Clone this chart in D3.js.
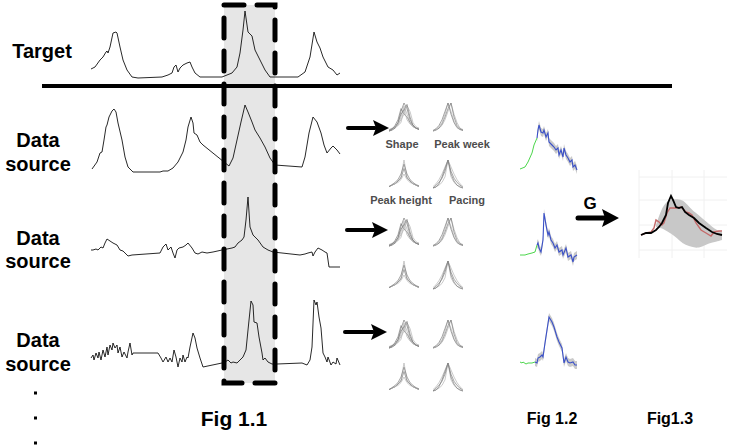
<!DOCTYPE html>
<html>
<head>
<meta charset="utf-8">
<script src="https://cdn.jsdelivr.net/npm/d3@7"></script>
<style>
  html, body { margin: 0; padding: 0; background: #ffffff; }
  svg text { font-family: "Liberation Sans", Arial, sans-serif; font-weight: bold; }
</style>
</head>
<body>
<div id="chart"></div>
<script>
// ### data
// weekly incidence traces: [time step, value]

// target season (top row)
var target_series = [[1,9],[5,11],[10,18],[13,21],[16,26],[17,27],[18,25],[20,31],[23,45],[26,46],[27,45],[30,31],[33,18],[37,8],[42,1],[48,0],[72,1],[78,3],[82,5],[84,11],[86,13],[88,6],[90,10],[93,13],[97,15],[100,16],[102,11],[105,5],[110,1],[132,1],[142,5],[147,11],[150,25],[153,48],[155,67],[158,46],[162,42],[165,28],[170,18],[175,8],[180,1],[208,1],[215,6],[220,21],[224,46],[227,36],[230,30],[233,21],[238,11],[243,8],[247,3],[250,5]];

// the three data sources
var source1_series = [[2,3],[7,10],[10,19],[12,20],[14,32],[16,45],[17,47],[19,55],[22,61],[24,63],[26,60],[28,49],[32,32],[35,15],[38,5],[43,0],[70,0],[73,1],[78,1],[83,4],[88,10],[93,20],[96,32],[98,45],[101,55],[103,49],[104,39],[107,37],[110,30],[113,27],[139,6],[143,14],[147,32],[151,50],[155,67],[158,60],[162,50],[165,42],[170,34],[175,25],[180,14],[185,7],[212,5],[215,15],[219,39],[223,55],[227,50],[231,39],[234,27],[237,19],[241,24],[243,26],[247,22],[250,18]];
var source2_series = [[1,17],[3,17],[6,18],[8,17],[11,20],[13,19],[15,24],[17,28],[20,26],[23,24],[27,22],[30,17],[33,16],[35,14],[38,11],[42,12],[70,14],[73,20],[76,23],[78,17],[81,20],[83,14],[85,9],[87,17],[89,19],[93,20],[96,22],[98,24],[102,19],[105,14],[108,13],[112,15],[117,14],[123,15],[132,17],[137,18],[142,19],[145,20],[148,24],[152,27],[154,30],[156,47],[158,70],[160,40],[163,32],[168,27],[173,20],[178,17],[183,15],[210,12],[215,13],[218,14],[222,15],[223,11],[225,15],[228,19],[232,17],[235,15],[237,14],[239,0],[250,0]];
var source3_series = [[1,9],[3,12],[4,7],[6,14],[8,9],[9,15],[11,7],[13,17],[15,10],[17,20],[18,12],[20,22],[22,17],[23,24],[25,19],[27,22],[28,14],[30,20],[32,10],[34,15],[37,9],[38,15],[40,24],[42,12],[43,14],[68,14],[71,9],[73,5],[76,10],[78,5],[80,9],[82,5],[84,17],[86,10],[88,0],[90,9],[92,5],[93,12],[95,5],[97,10],[98,9],[100,20],[103,34],[105,29],[107,19],[110,9],[113,0],[132,4],[135,5],[138,7],[141,4],[143,5],[147,4],[150,7],[153,10],[156,17],[158,37],[161,66],[163,62],[164,45],[167,44],[169,30],[172,14],[173,7],[175,9],[178,5],[182,3],[187,3],[212,4],[217,2],[220,7],[222,20],[224,67],[226,62],[227,65],[229,50],[231,39],[233,14],[235,10],[237,5],[238,10],[241,2],[243,5],[246,3],[247,9],[250,2]];

// feature panels (same curves in each row): values per step 0..10
var shape_curves = [
  [0,0.5,1,2,5,9,6,3,1.5,1,0.5],
  [0,0.3,1,3,7,10,8,4,2,1,0.8],
  [0,0.5,1.5,2.5,4,6,9,7,3,1.5,1],
  [0,0.5,2,4,8,6,5,3,2,1,0.5],
  [0.5,1,1.5,2,3,8,4,2.5,1.5,1,1],
  [0.3,0.8,1.5,3,6,7.5,9.5,5,2,1,0.6]
];
var peak_week_curves = [
  [0,0.5,1,2,4,7,10,6,3,1,0.5],
  [0,0.3,1,2.5,5,8,10,5,2,0.8,0.3],
  [0,0.5,1.5,3,6,10,7,3.5,1.5,0.6,0.2],
  [0.2,0.8,2,4,7,10,6,3,1.2,0.5,0.2]
];
var peak_height_curves = [
  [0.5,1,1.5,2.5,4,10,4,2.5,1.5,1,0.5],
  [0.5,1,1.5,2.5,3.5,7,3.5,2.5,1.5,1,0.5],
  [0.5,1,1.5,2,3,5,3,2,1.5,1,0.5],
  [0.5,1.2,2,3,5,8.5,5,3,2,1.2,0.8]
];
var pacing_curves = [
  [0,0.5,1,2,4,10,4,2,1,0.5,0],
  [0,1,2,3.5,6,10,6,3.5,2,1,0.3],
  [0.5,1.5,3,5,7.5,10,7.5,5,3,1.5,0.5],
  [0,0.3,1.5,4,7,10,5,2.5,1,0.3,0]
];
var feature_labels = ["Shape", "Peak week", "Peak height", "Pacing"];

// Fig 1.2: observed start (green) and fitted trajectory (blue) per source
var fit1_observed = [[0,3],[5,5],[8,10],[12,19],[14,27],[17,34]];
var fit1_forecast = [[17,34],[18,42],[19,47],[21,40],[23,39],[24,42],[26,35],[28,39],[29,30],[32,27],[34,25],[36,22],[38,24],[39,17],[41,22],[43,15],[44,24],[46,17],[48,14],[50,10],[52,12],[53,5],[55,7],[57,2]];
var fit2_observed = [[0,12],[5,12],[8,13],[12,14],[15,15],[17,22]];
var fit2_forecast = [[17,22],[18,24],[19,19],[21,15],[23,27],[24,54],[26,42],[28,32],[29,35],[31,27],[33,24],[35,19],[37,22],[39,15],[42,17],[43,12],[46,19],[48,10],[51,12],[53,5],[54,10],[57,12]];
var fit3_observed = [[0,5],[2,4],[3,5],[6,3],[8,4],[12,4],[15,5]];
var fit3_forecast = [[15,5],[17,4],[18,9],[20,10],[22,12],[23,10],[25,24],[27,37],[29,50],[32,45],[34,40],[37,30],[39,25],[42,19],[44,4],[46,10],[48,5],[50,4],[53,5],[55,2],[57,2]];

// Fig 1.3: combined forecast band [t, low, high], ensemble (black) and truth (red)
var combo_band = [[17,33,35],[22,32,50],[28,29,60],[37,23,61],[43,17,60],[47,15,57],[53,13,50],[57,12,47],[63,13,42],[70,17,36],[77,18,30],[83,20,28]];
var combo_mean = [[2,25],[7,27],[12,27],[17,30],[20,33],[23,37],[27,45],[29,57],[32,64],[34,60],[37,53],[40,52],[43,53],[46,48],[50,45],[55,42],[60,37],[67,32],[73,28],[78,26],[83,25]];
var combo_truth = [[2,25],[7,27],[12,28],[15,32],[17,40],[20,38],[23,35],[25,37],[28,47],[31,52],[37,52],[42,53],[47,48],[50,47],[53,45],[57,37],[62,30],[67,27],[72,24],[75,28],[80,29],[83,29]];
var combo_grid_x = [0, 33, 65];
var combo_grid_y = [10, 35, 60, 83];

// ### layout
var width = 729, height = 447;
var svg = d3.select("#chart").append("svg")
    .attr("width", width)
    .attr("height", height);

var bg_layer = svg.append("g").attr("class", "bg_layer");
var fg_layer = svg.append("g").attr("class", "fg_layer");

// shared x scale for the long traces, one y scale per row
var x_long = d3.scaleLinear().domain([0, 250]).range([90, 340]);
var rows = [
  {series: target_series,  base: 78},
  {series: source1_series, base: 172},
  {series: source2_series, base: 267},
  {series: source3_series, base: 367}
];

// highlighted window behind the traces
bg_layer.append("rect")
    .attr("x", 224).attr("y", 5)
    .attr("width", 51).attr("height", 378)
    .attr("fill", "#e6e6e6");

rows.forEach(function(r){
  var y = d3.scaleLinear().domain([0, 70]).range([r.base, r.base - 70]);
  var line = d3.line().x(function(d){ return x_long(d[0]); }).y(function(d){ return y(d[1]); });
  fg_layer.append("path")
      .attr("d", line(r.series))
      .attr("fill", "none")
      .attr("stroke", "#111")
      .attr("stroke-width", 0.9)
      .attr("stroke-linejoin", "round");
});

// divider under the target
fg_layer.append("line")
    .attr("x1", 42).attr("x2", 672)
    .attr("y1", 86).attr("y2", 86)
    .attr("stroke", "#000").attr("stroke-width", 4);

// dashed outline of the window
fg_layer.append("rect")
    .attr("x", 224).attr("y", 5)
    .attr("width", 51).attr("height", 378)
    .attr("fill", "none")
    .attr("stroke", "#000")
    .attr("stroke-width", 5)
    .attr("stroke-dasharray", "20,13")
    .attr("stroke-linecap", "round");

// row labels
fg_layer.append("text").attr("x", 42).attr("y", 58)
    .attr("text-anchor", "middle").attr("font-size", 20).text("Target");
[[147, 171], [245, 268], [347, 371]].forEach(function(b){
  fg_layer.append("text").attr("x", 38).attr("y", b[0])
      .attr("text-anchor", "middle").attr("font-size", 20).text("Data");
  fg_layer.append("text").attr("x", 38).attr("y", b[1])
      .attr("text-anchor", "middle").attr("font-size", 20).text("source");
});
[393, 418, 443].forEach(function(yy){
  fg_layer.append("rect").attr("x", 34).attr("y", yy - 1.5)
      .attr("width", 3).attr("height", 3).attr("fill", "#000");
});

// ### arrows
function arrow(x0, x1, y, shaft, head_w, head_h){
  fg_layer.append("line")
      .attr("x1", x0).attr("x2", x1 - head_w + 2)
      .attr("y1", y).attr("y2", y)
      .attr("stroke", "#000").attr("stroke-width", shaft)
      .attr("stroke-linecap", "round");
  fg_layer.append("path")
      .attr("d", "M" + x1 + "," + y + "L" + (x1 - head_w) + "," + (y - head_h) +
                 "L" + (x1 - head_w + 3) + "," + y + "L" + (x1 - head_w) + "," + (y + head_h) + "Z")
      .attr("fill", "#000");
}
arrow(348, 389, 128, 4, 16, 8);
arrow(347, 388, 230, 4, 16, 8);
arrow(345, 387, 332, 4, 16, 8);
arrow(578, 619, 218, 5, 17, 9);

// ### feature panels (2x2 per source)
var panel_sets = [shape_curves, peak_week_curves, peak_height_curves, pacing_curves];
var panel_cols = [389, 433];
var panel_rows = [[103, 160], [218, 261], [320, 363]];
var px = d3.scaleLinear().domain([0, 10]).range([0, 30]);
var py = d3.scaleLinear().domain([0, 10]).range([28, 0]);
var pline = d3.line().x(function(d, i){ return px(i); }).y(function(d){ return py(d); });

panel_rows.forEach(function(pr){
  panel_sets.forEach(function(curves, k){
    var g = fg_layer.append("g")
        .attr("transform", "translate(" + panel_cols[k % 2] + "," + pr[Math.floor(k / 2)] + ")");
    g.selectAll("path").data(curves).enter().append("path")
        .attr("d", pline)
        .attr("fill", "none")
        .attr("stroke", function(d, i){ return i % 2 ? "#7a7a7a" : "#b0b0b0"; })
        .attr("stroke-width", 0.8)
        .attr("stroke-opacity", 0.85);
  });
});

// labels only on the first source
[[402, 148], [462, 148], [401, 204], [467, 204]].forEach(function(p, i){
  fg_layer.append("text").attr("x", p[0]).attr("y", p[1])
      .attr("text-anchor", "middle").attr("font-size", 11)
      .attr("fill", "#4d4d4d").text(feature_labels[i]);
});

// ### Fig 1.2 fitted trajectories
var fx = d3.scaleLinear().domain([0, 57]).range([520, 577]);
[[fit1_observed, fit1_forecast, 172], [fit2_observed, fit2_forecast, 267], [fit3_observed, fit3_forecast, 367]].forEach(function(f){
  var fy = d3.scaleLinear().domain([0, 60]).range([f[2], f[2] - 60]);
  var band = d3.area().x(function(d){ return fx(d[0]); })
      .y0(function(d){ return fy(d[1]) + 4; }).y1(function(d){ return fy(d[1]) - 4; });
  var fl = d3.line().x(function(d){ return fx(d[0]); }).y(function(d){ return fy(d[1]); });
  fg_layer.append("path").attr("d", band(f[1])).attr("fill", "#bdbdbd").attr("opacity", 0.8);
  fg_layer.append("path").attr("d", fl(f[0])).attr("fill", "none").attr("stroke", "#4cd64c").attr("stroke-width", 1);
  fg_layer.append("path").attr("d", fl(f[1])).attr("fill", "none").attr("stroke", "#3a50c8").attr("stroke-width", 1.1);
});

// ### Fig 1.3 combined forecast
var cx = d3.scaleLinear().domain([0, 88]).range([639, 727]);
var cy = d3.scaleLinear().domain([0, 90]).range([260, 170]);
var cg = fg_layer.append("g");
cg.selectAll(".gx").data(combo_grid_x).enter().append("line")
    .attr("x1", cx).attr("x2", cx).attr("y1", 170).attr("y2", 258)
    .attr("stroke", "#f0f0f0").attr("stroke-width", 1);
cg.selectAll(".gy").data(combo_grid_y).enter().append("line")
    .attr("x1", 639).attr("x2", 727).attr("y1", cy).attr("y2", cy)
    .attr("stroke", "#f0f0f0").attr("stroke-width", 1);
cg.append("path")
    .attr("d", d3.area().x(function(d){ return cx(d[0]); })
        .y0(function(d){ return cy(d[1]); }).y1(function(d){ return cy(d[2]); })
        .curve(d3.curveBasis)(combo_band))
    .attr("fill", "#c8c8c8");
var cl = d3.line().x(function(d){ return cx(d[0]); }).y(function(d){ return cy(d[1]); });
cg.append("path").attr("d", cl(combo_truth)).attr("fill", "none")
    .attr("stroke", "#c46a6a").attr("stroke-width", 1.4);
cg.append("path").attr("d", cl(combo_mean)).attr("fill", "none")
    .attr("stroke", "#000").attr("stroke-width", 1.8);

fg_layer.append("text").attr("x", 590).attr("y", 209)
    .attr("text-anchor", "middle").attr("font-size", 17).text("G");

// ### figure captions
fg_layer.append("text").attr("x", 234).attr("y", 426)
    .attr("text-anchor", "middle").attr("font-size", 21).text("Fig 1.1");
fg_layer.append("text").attr("x", 552).attr("y", 424)
    .attr("text-anchor", "middle").attr("font-size", 16).text("Fig 1.2");
fg_layer.append("text").attr("x", 670).attr("y", 424)
    .attr("text-anchor", "middle").attr("font-size", 16).text("Fig1.3");
</script>
</body>
</html>
